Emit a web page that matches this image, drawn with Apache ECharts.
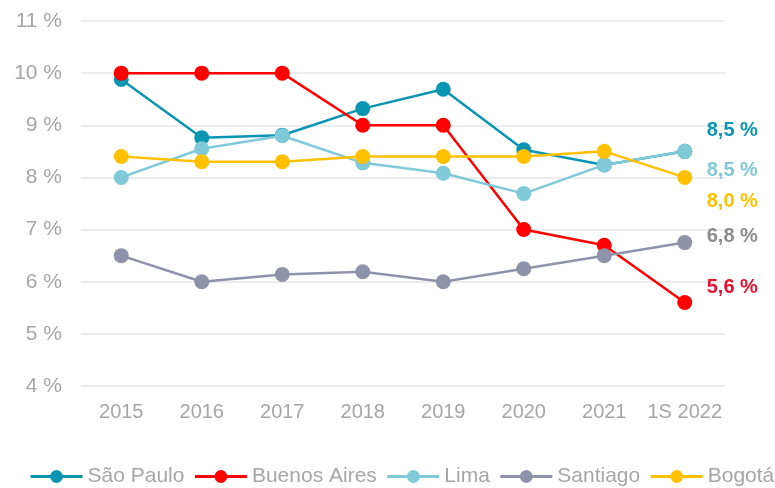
<!DOCTYPE html>
<html>
<head>
<meta charset="utf-8">
<script src="https://cdn.jsdelivr.net/npm/echarts@6/dist/echarts.min.js"></script>
<style>
  html, body { margin: 0; padding: 0; background: #fff; }
  #main { width: 775px; height: 488px; }
</style>
</head>
<body>
<div id="main"></div>
<script>
// categorias e valores (%)
var years = ['2015', '2016', '2017', '2018', '2019', '2020', '2021', '1S 2022'];
var saoPaulo    = [9.88, 8.76, 8.81, 9.32, 9.69, 8.53, 8.24, 8.5];
var buenosAires = [10, 10, 10, 9, 9, 7, 6.7, 5.6];
var lima        = [8.0, 8.55, 8.8, 8.28, 8.08, 7.69, 8.24, 8.5];
var santiago    = [6.5, 6.0, 6.14, 6.19, 6.0, 6.25, 6.5, 6.75];
var bogota      = [8.4, 8.3, 8.3, 8.4, 8.4, 8.4, 8.5, 8.0];

var font = 'Liberation Sans, Arial, sans-serif';
var grey = '#A6A6A6';

function serie(name, data, color, labelColor, dy) {
    return {
        name: name,
        type: 'line',
        data: data,
        symbol: 'circle',
        symbolSize: 15,
        lineStyle: { color: color, width: 2.5 },
        itemStyle: { color: color },
        endLabel: {
            show: true,
            distance: 22,
            offset: [0, dy],
            color: labelColor,
            fontFamily: font,
            fontWeight: 'bold',
            fontSize: 20,
            formatter: function (p) {
                return p.value.toFixed(1).replace('.', ',') + ' %';
            }
        }
    };
}

var myChart = echarts.init(document.getElementById('main'));
var option = {
    animation: false,
    grid: { left: 81, right: 50, top: 21, bottom: 102, containLabel: false },
    legend: {
        left: 24,
        top: 461,
        width: 1200,
        itemWidth: 52,
        itemHeight: 16,
        itemGap: 9,
        lineStyle: { width: 3 },
        textStyle: { color: grey, fontFamily: font, fontSize: 21 },
        data: ['São Paulo', 'Buenos Aires', 'Lima', 'Santiago', 'Bogotá']
    },
    xAxis: {
        type: 'category',
        data: years,
        axisLine: { show: false },
        axisTick: { show: false },
        axisLabel: { interval: 0, color: grey, fontFamily: font, fontSize: 20, margin: 16 }
    },
    yAxis: {
        type: 'value',
        min: 4,
        max: 11,
        interval: 1,
        axisLabel: {
            color: grey, fontFamily: font, fontSize: 21, margin: 19,
            formatter: function (v) { return v + ' %'; }
        },
        splitLine: { lineStyle: { color: '#E6E6E6', width: 1.5 } }
    },
    series: [
        serie('São Paulo', saoPaulo, '#0A95B3', '#0A95B3', -21),
        serie('Buenos Aires', buenosAires, '#FF0000', '#E8112D', -15),
        serie('Lima', lima, '#7FC9D9', '#7FC9D9', 19),
        serie('Santiago', santiago, '#8F93A9', '#8C8C8C', -6),
        serie('Bogotá', bogota, '#FFC000', '#FFC000', 24)
    ]
};
myChart.setOption(option);
</script>
</body>
</html>
